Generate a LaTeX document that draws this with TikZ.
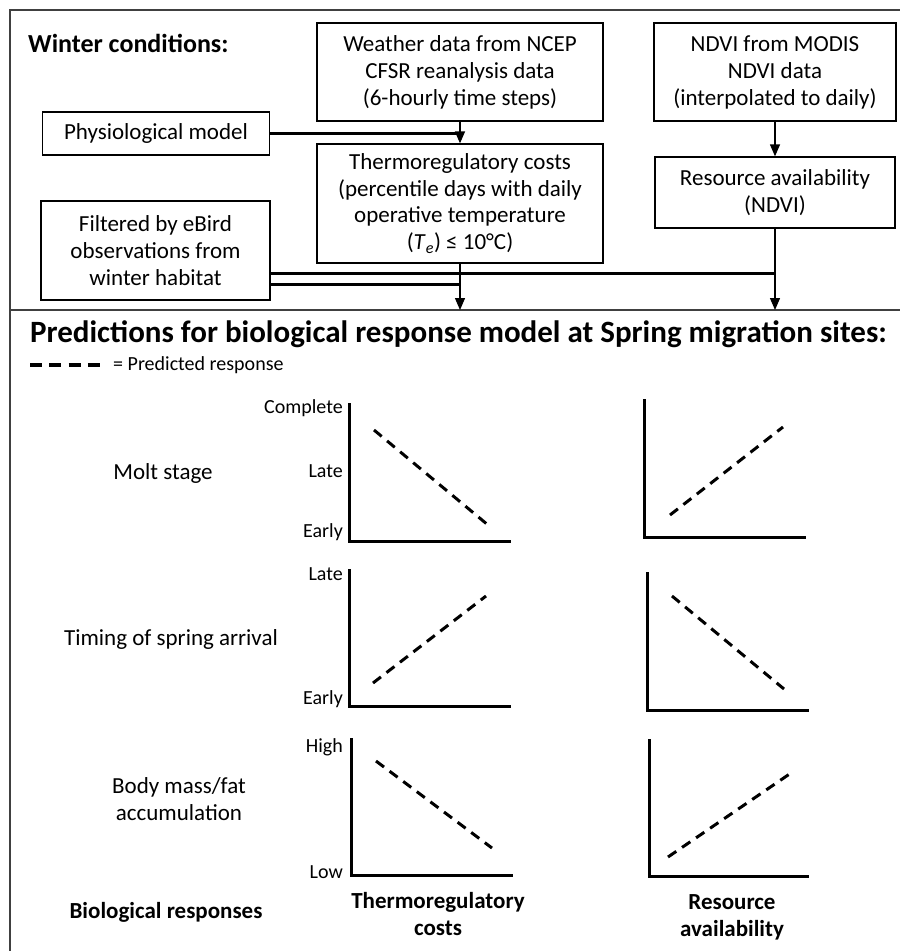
\documentclass[tikz,border=0pt]{standalone}
\usepackage{fontspec}
\setmainfont{Carlito}
\usetikzlibrary{arrows.meta}

\begin{document}
\begin{tikzpicture}[x=1pt,y=-1pt,
  box/.style={draw,line width=1.3pt,inner sep=0pt,align=center,
    font=\fontsize{23}{27}\selectfont},
  outline/.style={draw=black!75,line width=1.5pt},
  arr/.style={line width=1.3pt,-{Triangle[width=10pt,length=12pt]}},
  feed/.style={line width=3pt},
  axisline/.style={line width=3pt},
  pred/.style={line width=3pt,dash pattern=on 10pt off 7pt},
  head/.style={inner sep=0pt,anchor=west,font=\bfseries\fontsize{26}{30}\selectfont},
  lab/.style={inner sep=0pt,anchor=east,font=\fontsize{20}{24}\selectfont},
  resp/.style={inner sep=0pt,align=center,font=\fontsize{23}{27}\selectfont},
  xname/.style={inner sep=0pt,align=center,font=\bfseries\fontsize{23}{27}\selectfont}]
  \useasboundingbox (0,0) rectangle (900,951);
  \coordinate (tl) at (10,10);
  \coordinate (tr) at (900,10);
  \coordinate (bl) at (10,951);
  \coordinate (divL) at (10,310);
  \coordinate (divR) at (900,310);
  \draw[outline] (tr) -- (tl) -- (bl);
  \draw[outline] (divL) -- (divR);

  \node[head] (winter) at (28,43) {Winter conditions:};
  \node[box,minimum width=286pt,minimum height=98pt] (weather) at (460,72)
    {Weather data from NCEP\\CFSR reanalysis data\\(6-hourly time steps)};
  \node[box,minimum width=242pt,minimum height=98pt] (ndvi) at (775,72)
    {NDVI from MODIS\\NDVI data\\(interpolated to daily)};
  \node[box,minimum width=227pt,minimum height=43pt] (physio) at (156,133.5)
    {Physiological model};
  \node[box,minimum width=286pt,minimum height=119pt,
    font=\fontsize{23}{26.5}\selectfont] (thermo) at (460,203.5)
    {Thermoregulatory costs\\(percentile days with daily\\operative temperature\\(\textit{T}\textsubscript{\textit{e}}) ≤ 10°C)};
  \node[box,minimum width=240pt,minimum height=71pt] (resource) at (775,192.5)
    {Resource availability\\(NDVI)};
  \node[box,minimum width=229pt,minimum height=99pt] (filtered) at (155.5,250.5)
    {Filtered by eBird\\observations from\\winter habitat};

  \draw[arr] (weather) -- (thermo);
  \draw[feed] (physio.east) -- (physio.east -| weather);
  \draw[arr] (ndvi) -- (resource);
  \draw[arr] (thermo) -- (thermo |- divL);
  \draw[arr] (resource) -- (resource |- divL);
  \draw[feed] ([yshift=-22.5pt]filtered.east) -- ([yshift=-22.5pt]filtered.east -| resource);
  \draw[feed] ([yshift=-33.5pt]filtered.east) -- ([yshift=-33.5pt]filtered.east -| thermo);

  \node[head,font=\bfseries\fontsize{31}{36}\selectfont] (predict) at (30,334)
    {Predictions for biological response model at Spring migration sites:};
  \coordinate (keyA) at (30,365);
  \coordinate (keyB) at (100,365);
  \draw[line width=4pt,dash pattern=on 12pt off 7.3pt] (keyA) -- (keyB);
  \node[lab,anchor=west] (key) at (113,365) {= Predicted response};

  \node[resp] (molt) at (163,473) {Molt stage};
  \node[resp] (timing) at (171,639) {Timing of spring arrival};
  \node[resp] (mass) at (179,799) {Body mass/fat\\accumulation};

  \node[lab] (complete) at (343,408) {Complete};
  \node[lab] (late1) at (343,471) {Late};
  \node[lab] (early1) at (343,532) {Early};
  \node[lab] (late2) at (343,574) {Late};
  \node[lab] (early2) at (343,699) {Early};
  \node[lab] (high) at (343,747) {High};
  \node[lab] (low) at (343,872) {Low};

  \draw[axisline] (349,403) -- (349,541) -- (511,541);
  \draw[pred] (374,430) -- (488,525);
  \draw[axisline] (644,399) -- (644,537) -- (806,537);
  \draw[pred] (670,515) -- (783,427);
  \draw[axisline] (349,569) -- (349,706) -- (511,706);
  \draw[pred] (373,683) -- (486,596);
  \draw[axisline] (647,572) -- (647,710) -- (809,710);
  \draw[pred] (672,596) -- (784,689);
  \draw[axisline] (351,738) -- (351,875) -- (513,875);
  \draw[pred] (376,761) -- (492,848);
  \draw[axisline] (649,739) -- (649,876) -- (809,876);
  \draw[pred] (668,857) -- (791,773);

  \node[xname] (bio) at (166,912) {Biological responses};
  \node[xname] (xthermo) at (438,914) {Thermoregulatory\\costs};
  \node[xname] (xres) at (732,917) {Resource\\availability};
\end{tikzpicture}
\end{document}
